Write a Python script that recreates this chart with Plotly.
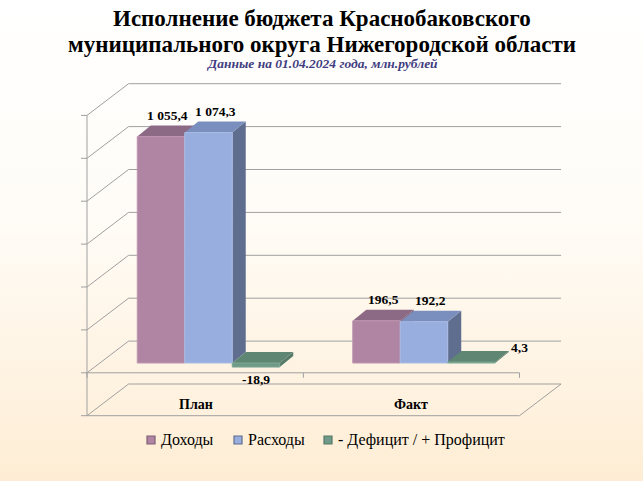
import base64
import plotly.graph_objects as go

# данные (млн.рублей)
categories = ['План', 'Факт']
series_names = ['Доходы', 'Расходы', '- Дефицит / + Профицит']
dohody = [1055.4, 196.5]
rashody = [1074.3, 192.2]
saldo = [-18.9, 4.3]
tick_vals = [-200, 0, 200, 400, 600, 800, 1000, 1200]

front_colors = ['#B085A3', '#98AEDE', '#6E9A87']
top_colors = ['#8C6A85', '#7B8FBE', '#5E8673']
side_colors = ['#7E5F77', '#5F6E8F', '#557A69']
edge_colors = ['#BC94B0', '#A8BCE6', '#7DA894']

SERIF = 'Liberation Serif, Times New Roman, serif'
W, H = 643, 481
# геометрия "3D" в пикселях
CAT0_PX, PX_PER_CAT = 208.5, 215.5
ZERO_PX, PX_PER_UNIT = 363, 42.9 / 200
BARGAP = 0.339
BW = (1 - BARGAP) / 3


def dxu(px):
    return px / PX_PER_CAT


def dyu(px):
    return px / PX_PER_UNIT


FRONT = (dxu(-12.9), dyu(-9.8))
BACK = (dxu(28.7), dyu(21.9))
DEPTH = (dxu(13.5), dyu(11))
XL, XR = -0.504, 1.503
GRID = '#A0A0A0'

fig = go.Figure()

values = [dohody, rashody, saldo]
for i, name in enumerate(series_names):
    fig.add_trace(go.Bar(
        x=[0, 1], y=values[i], name=name,
        width=BW, offset=-1.5 * BW + i * BW,
        marker=dict(color=front_colors[i], line=dict(width=1, color=edge_colors[i])),
        hoverinfo='skip', showlegend=False
    ))

shapes = []


def line(p, q):
    shapes.append(dict(type='line', xref='x', yref='y', x0=p[0], y0=p[1], x1=q[0], y1=q[1],
                       line=dict(color=GRID, width=1), layer='below'))


def fr(x, y):
    return (x + FRONT[0], y + FRONT[1])


def bk(x, y):
    return (x + BACK[0], y + BACK[1])


# стенки и сетка
for v in tick_vals:
    line(fr(XL, v), bk(XL, v))
    line(bk(XL, v), bk(XR, v))
    f = fr(XL, v)
    line(f, (f[0] - dxu(6), f[1]))
line(fr(XL, -200), fr(XL, 1200))
# пол
line(fr(XL, -200), fr(XR, -200))
line(fr(XR, -200), bk(XR, -200))
# ось категорий
line(fr(XL, 0), fr(XR, 0))
for xt in [XL, 0.5, XR]:
    f = fr(xt, 0)
    line(f, (f[0], f[1] - dyu(5)))

# грани столбцов
ann = []
for j in range(len(categories)):
    for i in range(len(series_names)):
        v = values[i][j]
        x0 = j - 1.5 * BW + i * BW
        x1 = x0 + BW
        lo, hi = min(0, v), max(0, v)
        ddx, ddy = DEPTH
        top = f'M{x0},{hi} L{x1},{hi} L{x1 + ddx},{hi + ddy} L{x0 + ddx},{hi + ddy} Z'
        side = f'M{x1},{lo} L{x1},{hi} L{x1 + ddx},{hi + ddy} L{x1 + ddx},{lo + ddy} Z'
        for path, col in [(side, side_colors[i]), (top, top_colors[i])]:
            shapes.append(dict(type='path', xref='x', yref='y', path=path, fillcolor=col,
                               line=dict(width=0), layer='below'))
        txt = f'{v:,.1f}'.replace(',', ' ').replace('.', ',')
        lab = dict(text=f'<b>{txt}</b>', xref='x', yref='y', showarrow=False,
                   font=dict(family=SERIF, size=13.5, color='black'))
        if v < 0:
            lab.update(x=x0 + BW / 2, y=lo, yanchor='top', yshift=-3)
        elif i == 2:
            lab.update(x=x1 + ddx, y=hi + ddy, xanchor='left', yanchor='middle', yshift=4)
        else:
            lab.update(x=x0 + BW / 2 + ddx / 2, y=hi + ddy, yanchor='bottom', yshift=1)
        ann.append(lab)

for j, c in enumerate(categories):
    p = fr(j, -150)
    ann.append(dict(text=f'<b>{c}</b>', x=p[0], y=p[1], xref='x', yref='y', showarrow=False,
                    font=dict(family=SERIF, size=14, color='black')))

ann.append(dict(text='<b>Исполнение бюджета Краснобаковского</b>', x=0.5, y=1 - 18 / H,
                xref='paper', yref='paper', showarrow=False, yanchor='middle',
                font=dict(family=SERIF, size=23, color='black')))
ann.append(dict(text='<b>муниципального округа Нижегородской области</b>', x=0.5, y=1 - 45 / H,
                xref='paper', yref='paper', showarrow=False, yanchor='middle',
                font=dict(family=SERIF, size=23, color='black')))
ann.append(dict(text='<b><i>Данные на 01.04.2024 года, млн.рублей</i></b>', x=0.5, y=1 - 63 / H,
                xref='paper', yref='paper', showarrow=False, yanchor='middle',
                font=dict(family=SERIF, size=13.5, color='#3F3D7F')))

# легенда
legend_x = [147, 234, 324]
LEG_Y = 440
for i, name in enumerate(series_names):
    x0 = legend_x[i]
    shapes.append(dict(type='rect', xref='paper', yref='paper',
                       x0=x0 / W, x1=(x0 + 8) / W, y0=1 - (LEG_Y + 4) / H, y1=1 - (LEG_Y - 4) / H,
                       fillcolor=front_colors[i], line=dict(color=side_colors[i], width=1.2)))
    ann.append(dict(text=name, x=(x0 + 12) / W, y=1 - LEG_Y / H, xref='paper', yref='paper',
                    xanchor='left', yanchor='middle', showarrow=False,
                    font=dict(family=SERIF, size=16, color='black')))

svg = ('<svg xmlns="http://www.w3.org/2000/svg" width="643" height="481" preserveAspectRatio="none">'
       '<defs><linearGradient id="g" x1="0" y1="0" x2="0" y2="1">'
       '<stop offset="0" stop-color="#FFFFFF"/><stop offset="0.45" stop-color="#FFFCF7"/>'
       '<stop offset="1" stop-color="#FEEDD4"/></linearGradient></defs>'
       '<rect width="100%" height="100%" fill="url(#g)"/></svg>')
bg = 'data:image/svg+xml;base64,' + base64.b64encode(svg.encode()).decode()

fig.update_layout(
    width=W, height=H, autosize=False,
    margin=dict(l=0, r=0, t=0, b=0),
    paper_bgcolor='white', plot_bgcolor='rgba(0,0,0,0)',
    barmode='overlay',
    xaxis=dict(range=[-CAT0_PX / PX_PER_CAT, (W - CAT0_PX) / PX_PER_CAT], visible=False, fixedrange=True),
    yaxis=dict(range=[-(H - ZERO_PX) / PX_PER_UNIT, ZERO_PX / PX_PER_UNIT], visible=False, fixedrange=True),
    shapes=shapes,
    annotations=ann,
    images=[dict(source=bg, xref='paper', yref='paper', x=0, y=1, sizex=1, sizey=1,
                 sizing='stretch', layer='below')],
    showlegend=False,
)

fig.write_html('out.html', config={'displayModeBar': False},
               post_script="document.body.style.margin='0';")
